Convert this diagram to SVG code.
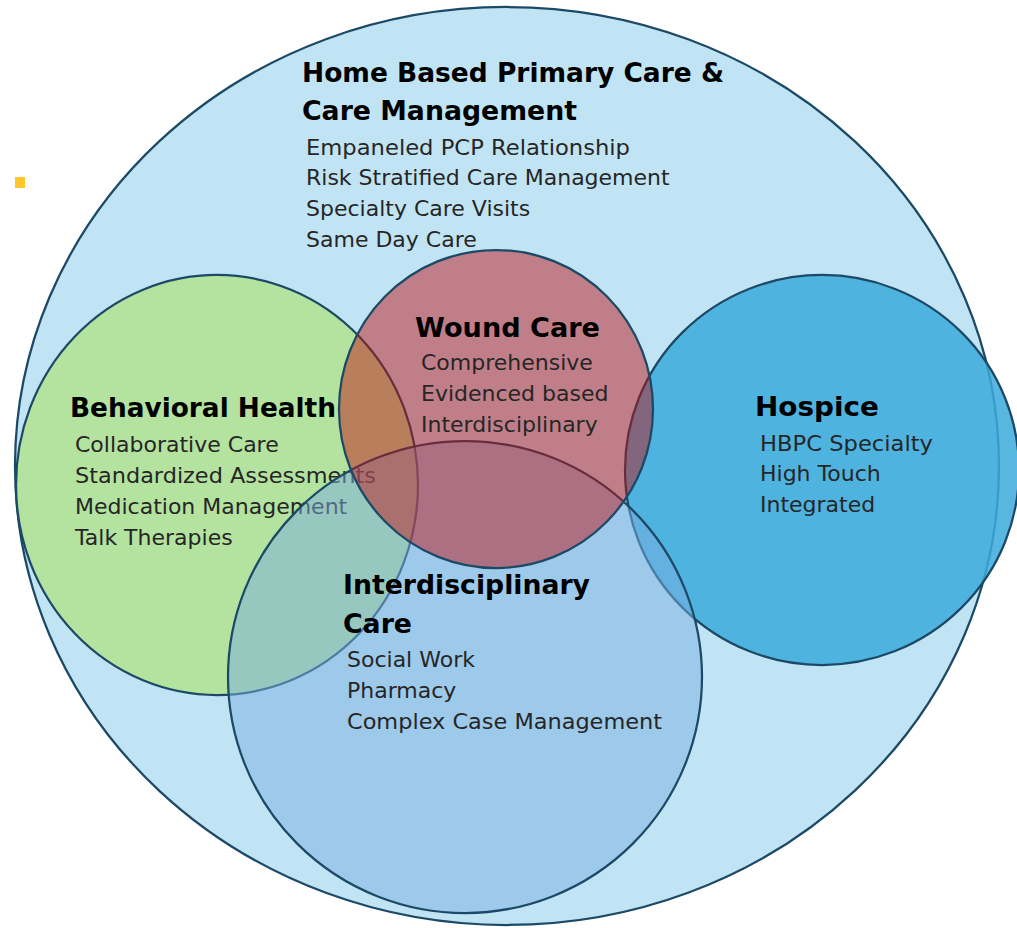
<svg xmlns="http://www.w3.org/2000/svg" width="1017" height="928" viewBox="0 0 1017 928">
  <style>
    .ring { stroke: #1C4A66; stroke-width: 2.25; }
    .title { font-family: "DejaVu Sans", "Liberation Sans", sans-serif; font-weight: bold; font-size: 27px; fill: #000000; }
    .item { font-family: "DejaVu Sans", "Liberation Sans", sans-serif; font-size: 22px; fill: #262626; }
  </style>
  <rect width="1017" height="928" fill="#FFFFFF"/>

  <!-- small gold marker at the left margin -->
  <rect x="15" y="177" width="10" height="11" fill="#FFC72C"/>

  <!-- outer domain -->
  <g id="home-based-primary-care">
    <ellipse class="ring" cx="507" cy="466" rx="492" ry="459" fill="#C1E4F4"/>
    <text class="title" x="302" y="82" textLength="422" lengthAdjust="spacingAndGlyphs">Home Based Primary Care &amp;</text>
    <text class="title" x="302" y="120" textLength="275" lengthAdjust="spacingAndGlyphs">Care Management</text>
    <text class="item" x="306" y="155" textLength="324" lengthAdjust="spacingAndGlyphs">Empaneled PCP Relationship</text>
    <text class="item" x="306" y="185">Risk Stratified Care Management</text>
    <text class="item" x="306" y="216">Specialty Care Visits</text>
    <text class="item" x="306" y="247">Same Day Care</text>
  </g>

  <g id="behavioral-health">
    <ellipse class="ring" cx="217" cy="485" rx="201" ry="210" fill="#B1E391" fill-opacity="0.85"/>
    <text class="title" x="70" y="417" textLength="266" lengthAdjust="spacingAndGlyphs">Behavioral Health</text>
    <text class="item" x="75" y="452">Collaborative Care</text>
    <text class="item" x="75" y="483" textLength="301" lengthAdjust="spacingAndGlyphs">Standardized Assessments</text>
    <text class="item" x="75" y="514">Medication Management</text>
    <text class="item" x="75" y="545">Talk Therapies</text>
  </g>

  <g id="hospice">
    <ellipse class="ring" cx="822" cy="470" rx="197" ry="195" fill="#3BAADC" fill-opacity="0.85"/>
    <text class="title" x="755" y="416" textLength="124" lengthAdjust="spacingAndGlyphs">Hospice</text>
    <text class="item" x="760" y="451" textLength="173" lengthAdjust="spacingAndGlyphs">HBPC Specialty</text>
    <text class="item" x="760" y="481">High Touch</text>
    <text class="item" x="760" y="512">Integrated</text>
  </g>

  <g id="interdisciplinary-care">
    <ellipse class="ring" cx="465" cy="677" rx="237" ry="236" fill="#79AEE0" fill-opacity="0.5"/>
    <text class="title" x="343" y="594" textLength="247" lengthAdjust="spacingAndGlyphs">Interdisciplinary</text>
    <text class="title" x="343" y="633" textLength="69" lengthAdjust="spacingAndGlyphs">Care</text>
    <text class="item" x="347" y="667">Social Work</text>
    <text class="item" x="347" y="698">Pharmacy</text>
    <text class="item" x="347" y="729" textLength="315" lengthAdjust="spacingAndGlyphs">Complex Case Management</text>
  </g>

  <g id="wound-care">
    <ellipse class="ring" cx="496" cy="409" rx="157" ry="159" fill="#BF0D0E" fill-opacity="0.47"/>
    <text class="title" x="415" y="337" textLength="185" lengthAdjust="spacingAndGlyphs">Wound Care</text>
    <text class="item" x="421" y="370">Comprehensive</text>
    <text class="item" x="421" y="401">Evidenced based</text>
    <text class="item" x="421" y="432">Interdisciplinary</text>
  </g>
</svg>
